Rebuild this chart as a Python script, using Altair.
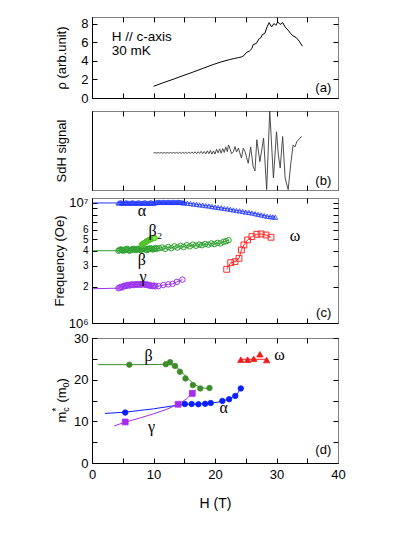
import altair as alt
import pandas as pd

# ===================== data =====================
# (a) resistivity vs field
rho_H = [10.0, 11.5, 13.2, 14.8, 16.5, 18.1, 19.7, 21.0, 22.4, 23.2, 23.8, 24.3,
         24.7, 25.1, 25.6, 26.0, 26.2, 26.7, 27.2, 27.5, 27.7, 28.1, 28.4, 28.8,
         29.2, 29.6, 29.9, 30.2, 30.6, 31.0, 31.4, 31.9, 32.3, 32.7, 33.2, 33.7, 34.2]
rho_val = [1.26, 1.62, 2.01, 2.40, 2.80, 3.20, 3.59, 3.88, 4.13, 4.25, 4.34, 4.41,
           4.55, 4.88, 5.05, 5.31, 5.74, 5.85, 6.39, 6.50, 6.82, 6.93, 7.53, 8.10,
           7.63, 8.00, 7.80, 8.17, 7.90, 8.10, 7.63, 7.28, 6.92, 6.67, 6.49, 6.10, 5.56]

# (b) SdH signal (arbitrary units)
sdh_H = [10.0, 10.25, 10.5, 10.75, 11.0, 11.25, 11.5, 11.75, 12.0, 12.25, 12.5, 12.75,
         13.0, 13.25, 13.5, 13.75, 14.0, 14.25, 14.5, 14.75, 15.0, 15.25, 15.5, 15.75,
         16.0, 16.25, 16.5, 16.75, 17.0, 17.25, 17.5, 17.75, 18.0, 18.25, 18.5, 18.75,
         19.0, 19.25, 19.5, 19.75, 20.0, 20.25, 20.5, 20.75, 21.0, 21.25, 21.5, 21.75,
         22.0, 22.2, 22.4, 22.7, 23.0, 23.25, 23.5, 23.8, 24.3, 24.6, 24.9, 25.4,
         25.8, 26.2, 26.5, 26.8, 27.3, 27.9, 28.4, 28.9, 29.5, 30.0, 30.3, 30.6,
         31.0, 31.4, 31.9, 32.3, 32.7, 33.0, 33.3, 33.8, 34.1]
sdh_val = [0.0, 0.005, -0.005, 0.006, -0.005, 0.006, -0.006, 0.007, -0.006, 0.008, -0.007, 0.008,
           -0.008, 0.01, -0.01, 0.012, -0.01, 0.014, -0.012, 0.015, -0.012, 0.018, -0.014, 0.02,
           -0.015, 0.025, -0.015, 0.028, -0.018, 0.03, -0.015, 0.04, -0.02, 0.035, -0.025, 0.05,
           -0.02, 0.06, -0.03, 0.05, -0.03, 0.09, 0.0, 0.1, -0.01, 0.11, 0.01, 0.15,
           0.03, 0.2, 0.12, -0.02, 0.03, 0.16, 0.02, 0.12, -0.13, 0.12, 0.03, -0.26,
           0.15, -0.34, -0.45, 0.33, -0.22, 0.37, -0.92, 1.05, -0.63, 0.53, -0.05, -0.38,
           0.41, -0.63, -0.92, -0.3, 0.2, 0.15, 0.28, 0.37, 0.41]

# (c) SdH frequencies, in units of 10^6 Oe
alpha_H = [4.3, 4.5, 4.7, 4.9, 5.1, 5.3, 5.5, 5.7, 5.9, 6.1, 6.3, 6.5, 6.7, 6.9, 7.1,
           7.3, 7.5, 7.7, 7.9, 8.1, 8.3, 8.5, 8.7, 8.9, 9.1, 9.3, 9.5, 9.7, 9.9, 10.1,
           10.4, 10.6, 10.8, 11.0, 11.2, 11.4, 11.6, 11.8, 12.0, 12.2, 12.4, 12.6,
           12.8, 13.0, 13.2, 13.4, 13.6, 13.8, 14.0, 14.2, 14.4, 14.6, 14.8, 15.0,
           15.5, 16.0, 16.5, 17.0, 17.5, 18.0, 18.5, 19.0, 19.5, 20.0, 20.5, 21.0,
           21.5, 22.0, 22.5, 23.0, 23.5, 24.0, 24.5, 25.0, 25.5, 26.0, 26.5, 27.0,
           27.5, 28.0, 28.5, 29.0, 29.4, 29.8]
alpha_F = [10.0, 10.05, 10.1, 10.0, 9.95, 10.0, 10.1, 10.05, 10.0, 9.95, 10.0, 10.1, 10.05, 10.0, 9.95,
           10.0, 10.1, 10.05, 10.0, 9.95, 10.0, 10.1, 10.05, 10.0, 9.95, 10.0, 10.1, 10.05, 10.0, 9.95,
           10.1, 10.15, 10.2, 10.15, 10.1, 10.15, 10.2, 10.15, 10.1, 10.15, 10.2, 10.15,
           10.1, 10.15, 10.2, 10.15, 10.1, 10.15, 10.2, 10.15, 10.1, 10.1, 10.05, 10.05,
           9.95, 9.9, 9.8, 9.75, 9.65, 9.6, 9.5, 9.45, 9.35, 9.25, 9.2, 9.1,
           9.0, 8.95, 8.85, 8.75, 8.65, 8.6, 8.5, 8.4, 8.35, 8.25, 8.15, 8.05,
           7.95, 7.85, 7.75, 7.7, 7.65, 7.6]
beta_H = [4.3, 4.5, 4.7, 4.9, 5.1, 5.3, 5.5, 5.7, 5.9, 6.1, 6.3, 6.5, 6.7, 6.9, 7.1, 7.3,
          7.5, 7.7, 7.9, 8.1, 8.3, 8.5, 8.7, 8.9, 9.1, 9.3, 9.5, 9.7, 9.9, 10.1, 10.3, 10.5,
          10.9, 11.4, 11.9, 12.4, 12.9, 13.4, 13.9, 14.4, 14.9, 15.4, 15.9, 16.4,
          16.9, 17.4, 17.9, 18.4, 18.9, 19.4, 19.9, 20.4, 20.9, 21.4, 21.8, 22.2]
beta_F = [4.0, 4.05, 4.1, 4.05, 4.0, 4.05, 4.1, 4.15, 4.05, 4.0, 4.05, 4.1, 4.15, 4.1, 4.05, 4.1,
          4.15, 4.1, 4.05, 4.1, 4.15, 4.2, 4.1, 4.05, 4.1, 4.15, 4.2, 4.15, 4.1, 4.15, 4.2, 4.15,
          4.2, 4.25, 4.15, 4.3, 4.2, 4.35, 4.25, 4.4, 4.3, 4.45, 4.35, 4.5,
          4.4, 4.5, 4.45, 4.55, 4.5, 4.6, 4.55, 4.65, 4.6, 4.75, 4.8, 4.9]
beta2_H = [8.1, 8.2, 8.3, 8.4, 8.5, 8.6, 8.7, 8.8, 8.9, 9.0, 9.1, 9.2, 9.3, 9.4, 9.5,
           9.6, 9.7, 9.8, 9.9, 10.0, 10.1, 10.2]
beta2_F = [4.5, 4.55, 4.55, 4.6, 4.65, 4.65, 4.7, 4.75, 4.8, 4.8, 4.85, 4.9, 4.9, 4.95, 5.0,
           5.0, 5.05, 5.05, 5.1, 5.1, 5.15, 5.1]
gamma_H = [4.3, 4.5, 4.7, 4.9, 5.1, 5.3, 5.5, 5.7, 5.9, 6.1, 6.3, 6.5, 6.7, 6.9, 7.1, 7.3,
           7.5, 7.7, 7.9, 8.1, 8.3, 8.5, 8.7, 8.9, 9.1, 9.3, 9.5, 9.7, 9.9, 10.1, 10.3,
           10.8, 11.6, 12.4, 13.1, 13.8, 14.7]
gamma_F = [1.95, 1.97, 2.0, 1.98, 2.02, 2.05, 2.03, 2.06, 2.08, 2.05, 2.08, 2.1, 2.07, 2.09, 2.1, 2.08,
           2.1, 2.11, 2.08, 2.1, 2.12, 2.09, 2.08, 2.1, 2.07, 2.05, 2.06, 2.04, 2.03, 2.05, 2.02,
           2.03, 2.07, 2.1, 2.12, 2.2, 2.3]
omega_H = [21.9, 22.55, 23.25, 23.9, 24.3, 24.7, 25.3, 26.0, 26.8, 27.5, 28.3, 29.1]
omega_F = [2.8, 3.18, 3.24, 3.46, 4.06, 4.47, 4.92, 5.25, 5.48, 5.52, 5.41, 5.18]
low_H = [0.2]            # the guide lines start here at low field
alpha_low = [10.0]
beta_low = [4.0]
gamma_low = [1.93]

# (d) cyclotron masses (m0)
mb_H = [6.07, 12.0, 12.7, 13.5, 14.3, 15.2, 16.4, 17.6, 19.1]
mb_v = [23.6, 23.7, 24.2, 23.3, 21.9, 20.3, 18.7, 17.9, 18.0]
ma_H = [5.4, 15.1, 16.2, 17.3, 18.4, 19.3, 21.2, 22.3, 23.3, 24.2]
ma_v = [12.1, 14.15, 14.15, 14.1, 14.2, 14.4, 14.9, 15.3, 16.1, 17.9]
mg_H = [5.4, 14.0, 16.3]
mg_v = [9.85, 14.1, 16.7]
mw_H = [24.2, 25.3, 26.3, 27.3, 28.4]
mw_v = [24.8, 24.8, 25.0, 26.1, 24.7]
# guide curves in (d)
fb_H = [1.0, 6.0, 11.0, 12.5, 13.5, 14.5, 15.5, 16.5, 17.5, 18.5, 19.2]
fb_v = [23.6, 23.6, 23.65, 23.7, 23.3, 22.0, 20.4, 19.0, 18.2, 17.9, 17.9]
fa_H = [2.1, 5.4, 10.0, 14.0, 15.0, 17.0, 19.0, 20.5, 21.5, 22.5, 23.5, 24.3]
fa_v = [11.9, 12.2, 13.0, 13.9, 14.1, 14.15, 14.3, 14.6, 15.0, 15.5, 16.4, 18.1]
fg_H = [3.6, 5.4, 8.0, 10.0, 12.0, 14.0, 15.3, 16.9]
fg_v = [8.9, 9.8, 10.9, 11.8, 12.8, 14.1, 15.3, 17.6]
fw_H = [24.2, 28.4]
fw_v = [24.9, 24.9]

# annotations
a_notes = ["H // c-axis", "30 mK"]
a_notes_H = [3.2, 3.2]
a_notes_v = [6.6, 5.1]
panel_tags = ["(a)", "(b)", "(c)", "(d)"]
tag_H = 38.9
tag_v = [1.1, -0.7, 1.22, 3.2]
c_greek = ["α", "β₂", "β", "γ", "ω"]
c_greek_H = [8.1, 10.3, 8.1, 8.3, 33.0]
c_greek_v = [8.6, 5.8, 3.35, 2.4, 5.34]
d_greek = ["β", "ω", "α", "γ"]
d_greek_H = [9.2, 30.5, 21.4, 9.7]
d_greek_v = [25.8, 26.0, 13.1, 8.7]

# ===================== layout / style =====================
SANS = "Liberation Sans"
SERIF = "Liberation Serif"
W, H = 246, 446
TS = 5
GRAY = "#808080"
XS = alt.Scale(domain=[0, 40], nice=False, zero=False)
XT = [0, 5, 10, 15, 20, 25, 30, 35, 40]
PANEL = {
    "a": dict(domain=[0, 8.7], range=[81, 0], log=False),
    "b": dict(domain=[-0.93, 1.05], range=[173, 94], log=False),
    "c": dict(domain=[1, 11], range=[306, 181], log=True),
    "d": dict(domain=[0, 30], range=[446, 321], log=False),
}


def ysc(p):
    c = PANEL[p]
    kw = dict(domain=c["domain"], range=c["range"], nice=False, zero=False)
    if c["log"]:
        kw["type"] = "log"
    return alt.Scale(**kw)


def enc(ch, p, xaxis=None, yaxis=None):
    return ch.encode(x=alt.X("H:Q", scale=XS, axis=xaxis),
                     y=alt.Y("v:Q", scale=ysc(p), axis=yaxis))


BASE_AX = dict(grid=False, labelFont=SANS, labelColor="black", labelFontSize=13,
               labelFlush=False, labelOverlap=False,
               titleFont=SANS, titleColor="black", titleFontWeight="normal", titleFontSize=13)


def ax(**kw):
    d = dict(BASE_AX)
    d.update(kw)
    return alt.Axis(**d)


def dom_ax(orient, offset, color):
    return ax(orient=orient, offset=offset, domain=True, domainColor=color, domainWidth=1,
              ticks=False, labels=False, title=None)


def tick_ax(orient, offset, values):
    return ax(orient=orient, offset=offset, domain=False, ticks=True, tickSize=TS,
              tickColor="black", tickWidth=1, labels=False, values=values, title=None)


def frame(p, d, left_axis, left_ticks, right_ticks, bottom_axis=None, bottom_color="black"):
    bot, top = PANEL[p]["range"]
    base = alt.Chart(d).mark_point(opacity=0)
    if bottom_axis is None:
        bottom_axis = dom_ax("bottom", bot - H, bottom_color)
    return [
        enc(base, p, bottom_axis, left_axis),
        enc(base, p, tick_ax("bottom", bot - H - TS, XT),
            tick_ax("left", -TS, left_ticks) if left_ticks else None),
        enc(base, p, dom_ax("top", -top, GRAY), dom_ax("right", 0, GRAY)),
        enc(base, p, tick_ax("top", -(top + TS), XT),
            tick_ax("right", -TS, right_ticks) if right_ticks else None),
    ]


def df(h, v, t=None):
    d = pd.DataFrame({"H": h, "v": v})
    if t is not None:
        d["t"] = t
    return d


def line(d, p, color, width=1.0):
    return enc(alt.Chart(d).mark_line(color=color, strokeWidth=width), p)


def pts(d, p, shape, size, color, filled=False, fill=None, sw=1.0):
    if filled:
        m = alt.Chart(d).mark_point(shape=shape, size=size, filled=True, fill=fill or color,
                                    stroke=color, strokeWidth=0.8, opacity=1)
    else:
        m = alt.Chart(d).mark_point(shape=shape, size=size, filled=False, color=color,
                                    strokeWidth=sw, opacity=1)
    return enc(m, p)


def txt(d, p, font=SANS, size=13, align="center"):
    return enc(alt.Chart(d).mark_text(font=font, fontSize=size, align=align,
                                      baseline="middle", color="black"), p).encode(text="t:N")


def title_ax(title, tx):
    return dict(title=title, titleX=tx, titleAngle=270, titleAlign="center",
                titleBaseline="middle")


layers = []

# ---------- panel (a)
da = df(rho_H, rho_val)
layers += frame("a", da,
                ax(orient="left", domain=True, domainColor="black", ticks=False, tickSize=0,
                   labels=True, values=[0, 2, 4, 6, 8], labelPadding=4,
                   **title_ax("ρ (arb.unit)", -31)),
                [0, 2, 4, 6, 8], [0, 2, 4, 6, 8])
layers.append(line(da, "a", "black", 1.0))
layers.append(txt(df(a_notes_H, a_notes_v, a_notes), "a", size=13.5, align="left"))
layers.append(txt(df([tag_H], [tag_v[0]], [panel_tags[0]]), "a", size=13, align="right"))

# ---------- panel (b)
db = df(sdh_H, sdh_val)
layers += frame("b", db,
                ax(orient="left", domain=True, domainColor="black", ticks=False, tickSize=0,
                   labels=False, **title_ax("SdH signal", -31)),
                None, None, bottom_color=GRAY)
layers.append(line(db, "b", "#3a3a3a", 0.9))
layers.append(txt(df([tag_H], [tag_v[1]], [panel_tags[1]]), "b", size=13, align="right"))

# ---------- panel (c)
dc = df(alpha_H, alpha_F)
layers += frame("c", dc,
                ax(orient="left", domain=True, domainColor="black", ticks=False, tickSize=0,
                   labels=True, values=[1, 2, 3, 4, 5, 6, 10], labelPadding=4,
                   labelFontSize={"condition": {"test": "datum.value == 1 || datum.value == 10",
                                                "value": 13}, "value": 10},
                   labelExpr="datum.value == 10 ? '10⁷' : datum.value == 1 ? '10⁶' : '' + datum.value",
                   **title_ax("Frequency (Oe)", -33)),
                [1, 2, 3, 4, 5, 6, 7, 8, 9, 10], [1, 2, 3, 4, 5, 6, 7, 8, 9, 10])
C_A, C_B, C_B2, C_G, C_W = "#2036ff", "#2ca02c", "#7ee83a", "#9a32f0", "#ff2a2a"
layers.append(line(df(low_H + alpha_H, alpha_low + alpha_F), "c", C_A))
layers.append(pts(dc, "c", "triangle-up", 24, C_A, sw=0.8))
layers.append(line(df(low_H + beta_H, beta_low + beta_F), "c", C_B))
layers.append(pts(df(beta_H, beta_F), "c", "circle", 30, C_B))
layers.append(pts(df(beta2_H, beta2_F), "c", "circle", 26, "#46b82a", filled=True, fill=C_B2))
layers.append(line(df(low_H + gamma_H, gamma_low + gamma_F), "c", C_G))
layers.append(pts(df(gamma_H, gamma_F), "c", "circle", 30, C_G))
layers.append(line(df(omega_H, omega_F), "c", C_W))
layers.append(pts(df(omega_H, omega_F), "c", "square", 34, C_W))
layers.append(txt(df(c_greek_H, c_greek_v, c_greek), "c", font=SERIF, size=16))
layers.append(txt(df([tag_H], [tag_v[2]], [panel_tags[2]]), "c", size=13, align="right"))

# ---------- panel (d)
dd = df(mb_H, mb_v)
layers += frame("d", dd,
                ax(orient="left", domain=True, domainColor="black", ticks=False, tickSize=0,
                   labels=True, values=[0, 10, 20, 30], labelPadding=4, title=None),
                [0, 5, 10, 15, 20, 25, 30], [0, 5, 10, 15, 20, 25, 30],
                bottom_axis=ax(orient="bottom", offset=0, domain=True, domainColor="black",
                               ticks=False, tickSize=0, labels=True, values=[0, 10, 20, 30, 40],
                               labelPadding=5, title="H (T)", titleY=40, titleBaseline="middle",
                               titleFontSize=14))
D_B, D_A, D_G, D_W = "#3d8c2a", "#0a1eff", "#a42cf0", "#ee1c1c"
layers.append(line(df(fb_H, fb_v), "d", D_B))
layers.append(line(df(fa_H, fa_v), "d", D_A))
layers.append(line(df(fg_H, fg_v), "d", D_G))
layers.append(line(df(fw_H, fw_v), "d", D_W))
layers.append(pts(dd, "d", "circle", 30, D_B, filled=True))
layers.append(pts(df(ma_H, ma_v), "d", "circle", 30, D_A, filled=True))
layers.append(pts(df(mg_H, mg_v), "d", "square", 34, D_G, filled=True))
layers.append(pts(df(mw_H, mw_v), "d", "triangle-up", 40, D_W, filled=True))
layers.append(txt(df(d_greek_H, d_greek_v, d_greek), "d", font=SERIF, size=16))
layers.append(txt(df([tag_H], [tag_v[3]], [panel_tags[3]]), "d", size=13, align="right"))

# y title of (d): m_c* (m_0) built from pieces (rotated)
XB = -26.5
pieces = [("m", XB, 405.5, 13), ("c", XB + 3, 394.7, 9), ("*", XB - 5.5, 394.7, 11),
          ("(m", XB, 385.6, 13), ("0", XB + 3, 370.4, 9), (")", XB, 365.4, 13)]
one = pd.DataFrame({"k": [0]})
for t, px, py, fs in pieces:
    layers.append(alt.Chart(one).mark_text(text=t, font=SANS, fontSize=fs, angle=270,
                                           align="left", baseline="alphabetic", color="black")
                  .encode(x=alt.value(px), y=alt.value(py)))

chart = (alt.layer(*layers)
         .resolve_scale(y="independent")
         .resolve_axis(x="independent", y="independent")
         .properties(width=W, height=H, autosize=alt.AutoSizeParams(type="none"),
                     padding={"left": 84, "top": 9, "right": 60, "bottom": 62})
         .configure_view(stroke=None))

chart.save("out.html", embed_options={"renderer": "svg", "actions": False})
